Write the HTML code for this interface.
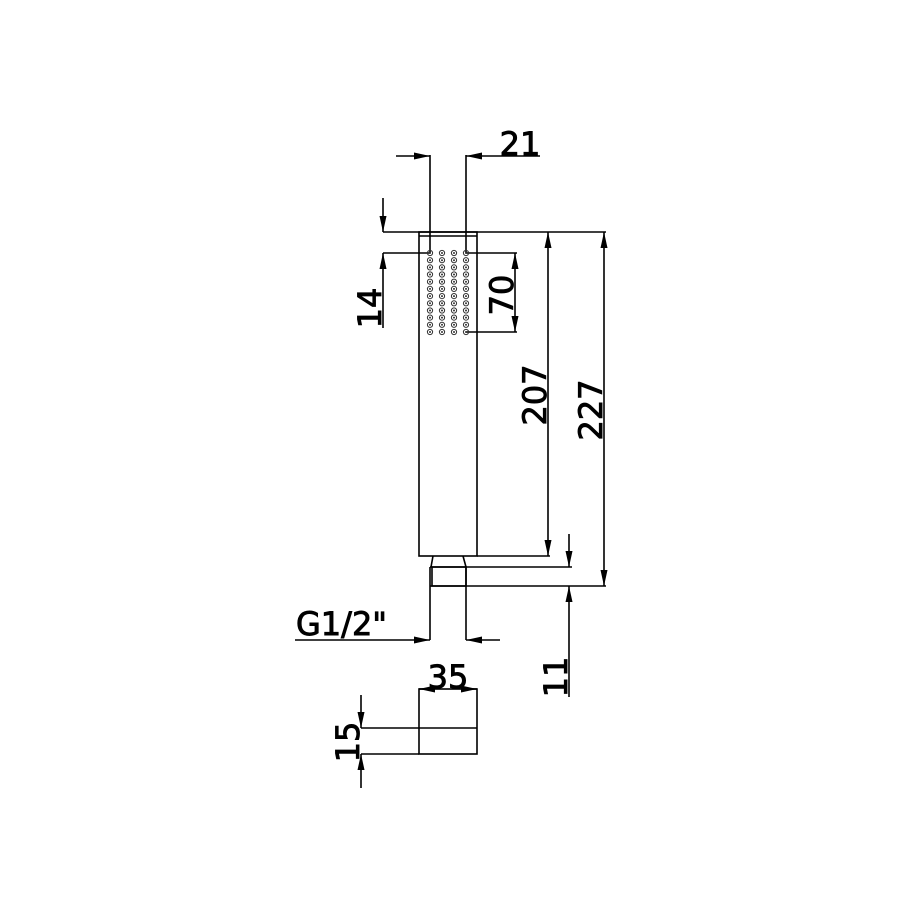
<!DOCTYPE html>
<html><head><style>body{margin:0;background:#fff}svg{display:block}text{font-family:"DejaVu Sans","Liberation Sans",sans-serif;font-size:32px;fill:#000;stroke:#000;stroke-width:0.9}</style></head>
<body>
<svg width="900" height="900" viewBox="0 0 900 900" xmlns="http://www.w3.org/2000/svg">
<defs>
<marker id="a" viewBox="0 0 16 8" refX="16" refY="4" markerWidth="16" markerHeight="8" markerUnits="userSpaceOnUse" orient="auto-start-reverse"><path d="M0,0.5L16,4L0,7.5z" fill="#000"/></marker>
<g id="dot"><circle r="2.6" fill="none" stroke="#333" stroke-width="1"/><circle r="1" fill="#333"/></g>
</defs>
<g stroke="#000" stroke-width="1.6" fill="none">
<rect x="419" y="232" width="58" height="324"/>
<line x1="419" y1="236" x2="477" y2="236"/>
<line x1="430" y1="155" x2="430" y2="253"/>
<line x1="466" y1="155" x2="466" y2="253"/>
<line x1="396" y1="156" x2="430" y2="156" marker-end="url(#a)"/>
<line x1="540" y1="156" x2="466" y2="156" marker-end="url(#a)"/>
<line x1="383" y1="232" x2="606" y2="232"/>
<line x1="383" y1="253" x2="430" y2="253"/>
<line x1="383" y1="198" x2="383" y2="232" marker-end="url(#a)"/>
<line x1="383" y1="328" x2="383" y2="253" marker-end="url(#a)"/>
<line x1="466" y1="253" x2="517" y2="253"/>
<line x1="466" y1="332" x2="517" y2="332"/>
<line x1="515" y1="253" x2="515" y2="332" marker-start="url(#a)" marker-end="url(#a)"/>
<line x1="548" y1="232" x2="548" y2="556" marker-start="url(#a)" marker-end="url(#a)"/>
<line x1="604" y1="232" x2="604" y2="586" marker-start="url(#a)" marker-end="url(#a)"/>
<line x1="477" y1="556" x2="550" y2="556"/>
<line x1="433" y1="556" x2="431" y2="567"/>
<line x1="463" y1="556" x2="466" y2="567"/>
<line x1="430" y1="567" x2="572" y2="567"/>
<line x1="430" y1="586" x2="606" y2="586"/>
<rect x="432" y="567" width="34" height="19"/>
<line x1="430" y1="567" x2="430" y2="640"/>
<line x1="466" y1="567" x2="466" y2="640"/>
<line x1="295" y1="640" x2="430" y2="640" marker-end="url(#a)"/>
<line x1="500" y1="640" x2="466" y2="640" marker-end="url(#a)"/>
<line x1="569" y1="534" x2="569" y2="567" marker-end="url(#a)"/>
<line x1="569" y1="697" x2="569" y2="586" marker-end="url(#a)"/>
<rect x="419" y="689" width="58" height="65"/>
<line x1="361" y1="728" x2="477" y2="728"/>
<line x1="361" y1="754" x2="419" y2="754"/>
<line x1="435" y1="689" x2="419" y2="689" marker-end="url(#a)"/>
<line x1="461" y1="689" x2="477" y2="689" marker-end="url(#a)"/>
<line x1="361" y1="695" x2="361" y2="728" marker-end="url(#a)"/>
<line x1="361" y1="788" x2="361" y2="754" marker-end="url(#a)"/>
</g>
<g>
<use href="#dot" x="430" y="253"/><use href="#dot" x="442" y="253"/><use href="#dot" x="454" y="253"/><use href="#dot" x="466" y="253"/>
<use href="#dot" x="430" y="260.2"/><use href="#dot" x="442" y="260.2"/><use href="#dot" x="454" y="260.2"/><use href="#dot" x="466" y="260.2"/>
<use href="#dot" x="430" y="267.4"/><use href="#dot" x="442" y="267.4"/><use href="#dot" x="454" y="267.4"/><use href="#dot" x="466" y="267.4"/>
<use href="#dot" x="430" y="274.5"/><use href="#dot" x="442" y="274.5"/><use href="#dot" x="454" y="274.5"/><use href="#dot" x="466" y="274.5"/>
<use href="#dot" x="430" y="281.7"/><use href="#dot" x="442" y="281.7"/><use href="#dot" x="454" y="281.7"/><use href="#dot" x="466" y="281.7"/>
<use href="#dot" x="430" y="288.9"/><use href="#dot" x="442" y="288.9"/><use href="#dot" x="454" y="288.9"/><use href="#dot" x="466" y="288.9"/>
<use href="#dot" x="430" y="296.1"/><use href="#dot" x="442" y="296.1"/><use href="#dot" x="454" y="296.1"/><use href="#dot" x="466" y="296.1"/>
<use href="#dot" x="430" y="303.3"/><use href="#dot" x="442" y="303.3"/><use href="#dot" x="454" y="303.3"/><use href="#dot" x="466" y="303.3"/>
<use href="#dot" x="430" y="310.5"/><use href="#dot" x="442" y="310.5"/><use href="#dot" x="454" y="310.5"/><use href="#dot" x="466" y="310.5"/>
<use href="#dot" x="430" y="317.6"/><use href="#dot" x="442" y="317.6"/><use href="#dot" x="454" y="317.6"/><use href="#dot" x="466" y="317.6"/>
<use href="#dot" x="430" y="324.8"/><use href="#dot" x="442" y="324.8"/><use href="#dot" x="454" y="324.8"/><use href="#dot" x="466" y="324.8"/>
<use href="#dot" x="430" y="332"/><use href="#dot" x="442" y="332"/><use href="#dot" x="454" y="332"/><use href="#dot" x="466" y="332"/>
</g>
<text x="520" y="155" text-anchor="middle">21</text>
<text x="448" y="688" text-anchor="middle">35</text>
<text x="296" y="635">G1/2"</text>
<text transform="translate(381,308) rotate(-90)" text-anchor="middle">14</text>
<text transform="translate(513,295) rotate(-90)" text-anchor="middle">70</text>
<text transform="translate(546,395) rotate(-90)" text-anchor="middle">207</text>
<text transform="translate(602,410) rotate(-90)" text-anchor="middle">227</text>
<text transform="translate(567,677) rotate(-90)" text-anchor="middle">11</text>
<text transform="translate(359,742) rotate(-90)" text-anchor="middle">15</text>
</svg>
</body></html>
